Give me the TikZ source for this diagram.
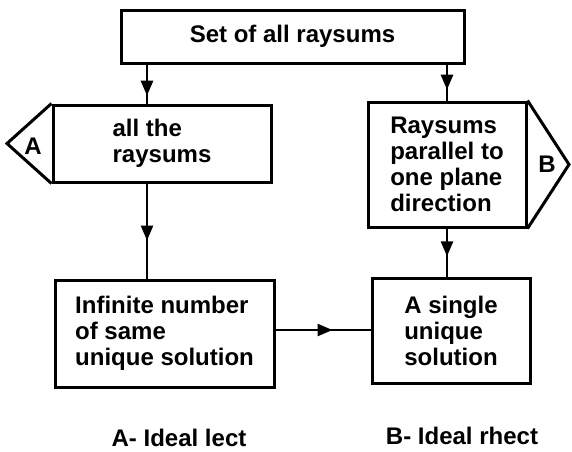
\documentclass[tikz,border=0pt]{standalone}
\usepackage{fontspec}
\setmainfont{Liberation Sans}
\usetikzlibrary{arrows.meta,decorations.markings}

\tikzset{
  txt/.style={font=\bfseries\fontsize{24}{26}\selectfont,inner sep=0pt},
  box/.style={txt,draw,line width=3pt,align=left},
  conn/.style={line width=2.6pt},
  midarrow/.style={decoration={markings,mark=at position #1 with {\arrow{Triangle[length=15pt,width=12pt]}}},postaction={decorate}},
}

\begin{document}
\begin{tikzpicture}[x=1pt,y=-1pt]
\useasboundingbox (0,0) rectangle (572,451);
% boxes
\node[box,minimum width=343pt,minimum height=53pt] (top) at (292.5,36.5) {Set of all raysums};
\node[box,minimum width=218pt,minimum height=77pt] (allr) at (162,143.5) {all the\\raysums};
\node[box,minimum width=158pt,minimum height=125pt] (para) at (447,164.5) {Raysums\\parallel to\\one plane\\direction};
\node[box,minimum width=219pt,minimum height=107pt] (inf) at (164.5,333.5) {Infinite number\\of same\\unique solution};
\node[box,minimum width=158pt,minimum height=105pt] (single) at (451,330.5) {A single\\unique\\solution};
% side flags
\coordinate (ta) at (7,143.5); \coordinate (tb) at (569,164.5);
\draw[line width=3pt,line join=miter] (allr.north west)--(ta)--(allr.south west);
\draw[line width=3pt,line join=miter] (para.north east)--(tb)--(para.south east);
\node[txt] (la) at (33,146) {A};
\node[txt] (lb) at (547,164) {B};
% connectors
\coordinate (xa) at (147,0); \coordinate (xb) at (447,0); \coordinate (hy) at (0,330);
\draw[conn,midarrow=0.8] (top.south -| xa)--(allr.north -| xa);
\draw[conn,midarrow=0.7] (top.south -| xb)--(para.north -| xb);
\draw[conn,midarrow=0.6] (allr.south -| xa)--(inf.north -| xa);
\draw[conn,midarrow=0.58] (para.south -| xb)--(single.north -| xb);
\draw[conn,midarrow=0.6] (inf.east |- hy)--(single.west |- hy);
% captions
\node[txt] (capa) at (179,438) {A- Ideal lect};
\node[txt] (capb) at (462,436) {B- Ideal rhect};
\end{tikzpicture}
\end{document}
